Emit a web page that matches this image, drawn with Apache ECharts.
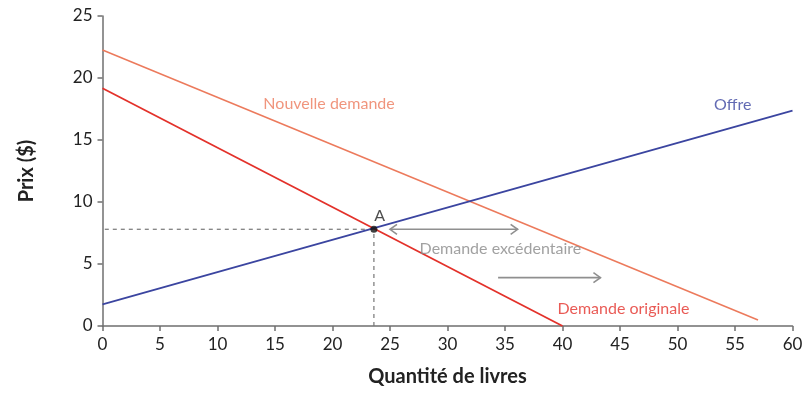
<!DOCTYPE html>
<html><head><meta charset="utf-8">
<script src="https://cdn.jsdelivr.net/npm/echarts@6/dist/echarts.min.js"></script>
<style>html,body{margin:0;padding:0;background:#fff}#c{width:810px;height:394px}</style>
</head><body><div id="c"></div>
<script>
// Data
const offre = [[0, 1.75], [60, 17.36]];
const demandeOriginale = [[0, 19.17], [40, 0]];
const nouvelleDemande = [[0, 22.26], [57, 0.48]];
const pointA = [23.6, 7.8];
const arrows = [[25.0, 7.8, 36.1, 7.8, 1], [34.4, 3.9, 43.3, 3.9, 0]];
const xTicks = [0, 5, 10, 15, 20, 25, 30, 35, 40, 45, 50, 55, 60];
const yTicks = [0, 5, 10, 15, 20, 25];
const labels = [
  ['Nouvelle demande', 19.7, 17.95, '#ec7a5c'],
  ['Offre', 54.8, 17.8, '#3b45a0'],
  ['Demande excédentaire', 34.6, 6.25, '#8a8a8a'],
  ['Demande originale', 45.3, 1.35, '#e3312a'],
  ['A', 24.1, 8.9, '#222']
];

const font = 'Lato, "Open Sans", sans-serif';
const chart = echarts.init(document.getElementById('c'), null, {renderer: 'canvas'});
const axisLineStyle = {color: '#6f6f6f', width: 1.5};
chart.setOption({
  animation: false,
  grid: {left: 102.5, right: 17.5, top: 16, bottom: 68},
  xAxis: {
    type: 'value', min: xTicks[0], max: xTicks[xTicks.length - 1], interval: 5,
    name: 'Quantité de livres', nameLocation: 'middle', nameGap: 41,
    nameTextStyle: {fontFamily: font, fontSize: 20, fontWeight: 'bold', color: '#222'},
    axisLine: {show: true, lineStyle: axisLineStyle},
    axisTick: {show: true, length: 5, lineStyle: axisLineStyle},
    axisLabel: {fontFamily: font, fontSize: 17, color: '#222', margin: 10},
    splitLine: {show: false}
  },
  yAxis: {
    type: 'value', min: yTicks[0], max: yTicks[yTicks.length - 1], interval: 5,
    name: 'Prix ($)', nameLocation: 'middle', nameGap: 66, nameRotate: 90,
    nameTextStyle: {fontFamily: font, fontSize: 20, fontWeight: 'bold', color: '#222'},
    axisLine: {show: true, lineStyle: axisLineStyle},
    axisTick: {show: true, length: 5, lineStyle: axisLineStyle},
    axisLabel: {fontFamily: font, fontSize: 17, color: '#222', margin: 10},
    splitLine: {show: false}
  },
  series: [
    {type: 'line', data: nouvelleDemande, symbol: 'none', lineStyle: {color: '#ec7a5c', width: 1.5}, z: 3},
    {type: 'line', data: demandeOriginale, symbol: 'none', lineStyle: {color: '#e3312a', width: 1.8}, z: 3},
    {type: 'line', data: offre, symbol: 'none', lineStyle: {color: '#3b45a0', width: 1.8}, z: 3},
    {type: 'line', data: [[0.2, pointA[1]], pointA], symbol: 'none', lineStyle: {color: '#777', width: 1.2, type: [4, 4]}, z: 2},
    {type: 'line', data: [[pointA[0], 0], pointA], symbol: 'none', lineStyle: {color: '#777', width: 1.2, type: [4, 4]}, z: 2},
    {type: 'scatter', data: [pointA], symbolSize: 7, itemStyle: {color: '#111'}, z: 5},
    {
      type: 'custom', data: arrows, z: 4,
      renderItem: function (params, api) {
        const p1 = api.coord([api.value(0), api.value(1)]);
        const p2 = api.coord([api.value(2), api.value(3)]);
        const dbl = api.value(4);
        const h = 7, w = 5;
        const st = {stroke: '#8f8f8f', lineWidth: 1.6, fill: null};
        const ch = [
          {type: 'line', shape: {x1: p1[0], y1: p1[1], x2: p2[0], y2: p2[1]}, style: st},
          {type: 'polyline', shape: {points: [[p2[0] - h, p2[1] - w], [p2[0], p2[1]], [p2[0] - h, p2[1] + w]]}, style: st}
        ];
        if (dbl) ch.push({type: 'polyline', shape: {points: [[p1[0] + h, p1[1] - w], [p1[0], p1[1]], [p1[0] + h, p1[1] + w]]}, style: st});
        return {type: 'group', children: ch};
      }
    },
    {
      type: 'scatter', symbolSize: 0, z: 6,
      data: labels.map(l => ({value: [l[1], l[2]], name: l[0],
        label: {show: true, position: 'inside', formatter: l[0], color: l[3], fontFamily: font, fontSize: 16}})),
      silent: true
    }
  ]
});
</script></body></html>
